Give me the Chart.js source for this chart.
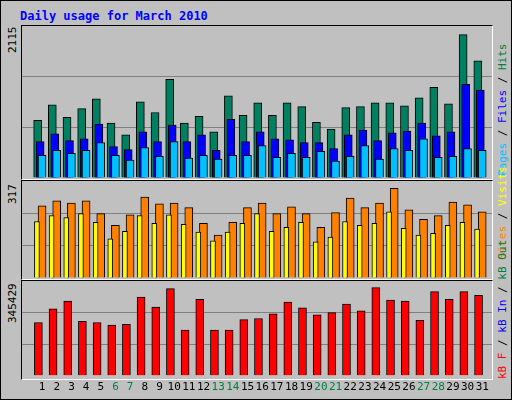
<!DOCTYPE html>
<html>
<head>
<meta charset="utf-8">
<script src="https://cdn.jsdelivr.net/npm/chart.js@4/dist/chart.umd.min.js"></script>
<style>
  body { margin: 0; background: #fff; }
  #frame { position: relative; width: 510px; height: 398px; background: #C0C0C0; border: 1px solid #000; overflow: hidden; font-family: "DejaVu Sans Mono", monospace; }
  .panel { position: absolute; left: 20px; width: 470px; border-top: 1px solid #000; border-left: 1px solid #000; border-right: 1px solid #fff; border-bottom: 1px solid #fff; }
  canvas { position: absolute; }
  .rot { position: absolute; transform-origin: left top; transform: rotate(-90deg); white-space: nowrap; font-size: 11px; line-height: 11px; }
  #title { position: absolute; left: 19px; top: 8px; color: #0000FF; font-weight: bold; font-size: 12px; }
</style>
</head>
<body>
<div id="frame">
  <div id="title">Daily usage for March 2010</div>
  <div class="panel" style="top:24px;height:153px"></div>
  <div class="panel" style="top:179px;height:98px"></div>
  <div class="panel" style="top:279px;height:98px"></div>
  <div class="rot" style="left:6px;top:52px">2115</div>
  <div class="rot" style="left:6px;top:203px">317</div>
  <div class="rot" style="left:6px;top:322px">345429</div>
  <div class="rot" style="left:496px;top:175px"><span style="color:#00C0FF">Pages</span> / <span style="color:#0000FF">Files</span> / <span style="color:#008040">Hits</span></div>
  <div class="rot" style="left:496px;top:258px"><span style="color:#FF8000">Sites</span> / <span style="color:#FFFF00">Visits</span></div>
  <div class="rot" style="left:496px;top:378px"><span style="color:#FF0000">kB F</span> / <span style="color:#0000FF">kB In</span> / <span style="color:#008040">kB Out</span></div>
  <canvas id="c1" style="left:21px;top:25px" width="470" height="152"></canvas>
  <canvas id="c2" style="left:21px;top:180px" width="470" height="97"></canvas>
  <canvas id="c3" style="left:21px;top:280px" width="470" height="118"></canvas>
</div>
<script>
var days = [1,2,3,4,5,6,7,8,9,10,11,12,13,14,15,16,17,18,19,20,21,22,23,24,25,26,27,28,29,30,31];
var weekends = [6,7,13,14,20,21,27,28];
var hits = [827,1050,869,995,1134,786,618,1092,939,1413,786,883,660,1176,897,1078,897,1078,1023,799,702,1009,1023,1078,1078,1036,1148,1301,1064,2054,1678];
var files = [521,632,535,562,772,451,409,660,521,758,521,618,395,841,521,660,562,548,507,507,423,618,688,535,646,674,786,604,660,1343,1260];
var pages = [325,395,353,395,507,325,256,437,311,521,284,325,270,325,325,465,297,353,297,381,242,311,465,270,423,395,562,297,311,423,395];
var visits = [192,212,205,219,189,133,159,212,186,215,182,156,126,156,186,219,159,172,189,123,139,192,179,186,225,169,146,152,179,189,166];
var sites = [245,262,255,262,219,179,215,275,252,255,239,186,146,189,239,255,219,242,219,172,222,272,239,255,305,232,199,212,258,249,225];
var kbytes = [200,251,280,204,200,190,193,295,258,327,172,287,172,172,211,215,233,277,255,229,237,269,244,331,284,280,208,316,287,316,302];
var yMax = [2115, 317, 345429];

Chart.defaults.animation = false;
Chart.defaults.responsive = false;

function pts(arr, off, scale) {
  return arr.map(function (v, i) { return { x: days[i] + off, y: v * (scale || 1) }; });
}
function ds(arr, off, color, w, scale) {
  return { data: pts(arr, off, scale), backgroundColor: color, borderColor: '#000', borderWidth: 1, barThickness: w, grouped: false };
}
function opts(max, showX) {
  return {
    plugins: { legend: { display: false }, tooltip: { enabled: false } },
    layout: { padding: 0 },
    scales: {
      x: {
        type: 'linear', min: 0.35, max: 31.35,
        display: showX,
        afterBuildTicks: function (s) { s.ticks = days.map(function (d) { return { value: d }; }); },
        grid: { display: false, drawTicks: false, tickLength: 0 },
        border: { display: false },
        ticks: {
          autoSkip: false, maxRotation: 0, padding: 5, labelOffset: 3,
          font: { family: 'DejaVu Sans Mono', size: 11 },
          callback: function (v) { return v; },
          color: function (c) { return weekends.indexOf(c.tick.value) >= 0 ? '#008040' : '#000'; }
        }
      },
      y: {
        min: 0, max: max,
        afterBuildTicks: function (s) { s.ticks = [0, max / 3, max * 2 / 3, max].map(function (v) { return { value: v }; }); },
        afterFit: function (s) { s.width = 0; },
        grid: { color: function (c) { return (c.index === 1 || c.index === 2) ? '#808080' : 'rgba(0,0,0,0)'; }, drawTicks: false, tickLength: 0, lineWidth: 1 },
        border: { display: false },
        ticks: { display: false, padding: 0 }
      }
    }
  };
}

new Chart(document.getElementById('c1'), {
  type: 'bar',
  data: { datasets: [ds(pages, 0.2, '#00C0FF', 8), ds(files, 0.07, '#0000FF', 8), ds(hits, -0.1, '#008060', 8)] },
  options: opts(yMax[0] * 1.03, false)
});
new Chart(document.getElementById('c2'), {
  type: 'bar',
  data: { datasets: [ds(visits, -0.15, '#FFFF00', 5), ds(sites, 0.2, '#FF8000', 8)] },
  options: opts(yMax[1] * 1.04, false)
});
new Chart(document.getElementById('c3'), {
  type: 'bar',
  data: { datasets: [ds(kbytes, -0.05, '#FF0000', 8, 1000)] },
  options: opts(yMax[2] * 1.03, true)
});
</script>
</body>
</html>
